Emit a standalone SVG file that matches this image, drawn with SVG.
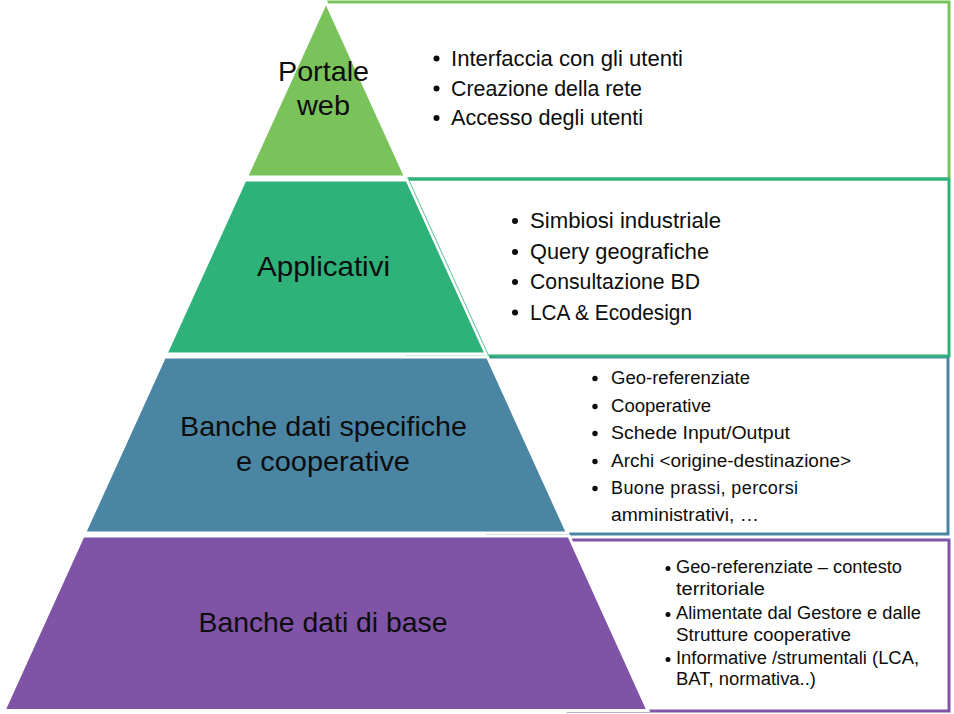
<svg xmlns="http://www.w3.org/2000/svg" width="954" height="714" viewBox="0 0 954 714">
<style>
.box{fill:#ffffff;stroke-width:3}
.seg{stroke:#ffffff;stroke-width:3;stroke-linejoin:miter}
.lbl{font-family:"Liberation Sans",Arial,sans-serif;font-size:28.5px;fill:#0d0d0d;text-anchor:middle}
.t22{font-family:"Liberation Sans",Arial,sans-serif;font-size:22px;fill:#0d0d0d}
.t18{font-family:"Liberation Sans",Arial,sans-serif;font-size:18px;fill:#0d0d0d}
.bul{fill:#0d0d0d}
</style>
<rect width="954" height="714" fill="#ffffff"/>

<!-- list boxes (behind pyramid) -->
<g id="list-4">
  <rect class="box" x="568" y="540" width="381" height="171" stroke="#7f54a6"/>
  <circle class="bul" cx="668" cy="568.5" r="2.5"/>
  <text class="t18" x="676" y="573" textLength="226" lengthAdjust="spacingAndGlyphs">Geo-referenziate – contesto</text>
  <text class="t18" x="676" y="595" textLength="89" lengthAdjust="spacingAndGlyphs">territoriale</text>
  <circle class="bul" cx="668" cy="614.5" r="2.5"/>
  <text class="t18" x="676" y="619" textLength="245" lengthAdjust="spacingAndGlyphs">Alimentate dal Gestore e dalle</text>
  <text class="t18" x="676" y="641" textLength="175" lengthAdjust="spacingAndGlyphs">Strutture cooperative</text>
  <circle class="bul" cx="668" cy="659.5" r="2.5"/>
  <text class="t18" x="676" y="664" textLength="243" lengthAdjust="spacingAndGlyphs">Informative /strumentali (LCA,</text>
  <text class="t18" x="676" y="685" textLength="140" lengthAdjust="spacingAndGlyphs">BAT, normativa..)</text>
</g>

<g id="list-3">
  <rect class="box" x="487" y="357" width="461" height="177" stroke="#4a86a4"/>
  <circle class="bul" cx="595" cy="378.5" r="2.7"/>
  <text class="t18" x="611" y="384" textLength="139" lengthAdjust="spacingAndGlyphs">Geo-referenziate</text>
  <circle class="bul" cx="595" cy="406.5" r="2.7"/>
  <text class="t18" x="611" y="412" textLength="100" lengthAdjust="spacingAndGlyphs">Cooperative</text>
  <circle class="bul" cx="595" cy="433.5" r="2.7"/>
  <text class="t18" x="611" y="439" textLength="179" lengthAdjust="spacingAndGlyphs">Schede Input/Output</text>
  <circle class="bul" cx="595" cy="461.5" r="2.7"/>
  <text class="t18" x="611" y="467" textLength="240" lengthAdjust="spacingAndGlyphs">Archi &lt;origine-destinazione&gt;</text>
  <circle class="bul" cx="595" cy="488.5" r="2.7"/>
  <text class="t18" x="611" y="494" textLength="187" lengthAdjust="spacing">Buone prassi, percorsi</text>
  <text class="t18" x="611" y="521" textLength="148" lengthAdjust="spacingAndGlyphs">amministrativi, …</text>
</g>

<g id="list-2">
  <rect class="box" x="407" y="179" width="542" height="177" stroke="#2eb27a"/>
  <circle class="bul" cx="515" cy="221" r="3"/>
  <text class="t22" x="530" y="228" textLength="191" lengthAdjust="spacingAndGlyphs">Simbiosi industriale</text>
  <circle class="bul" cx="515" cy="252" r="3"/>
  <text class="t22" x="530" y="259" textLength="179" lengthAdjust="spacingAndGlyphs">Query geografiche</text>
  <circle class="bul" cx="515" cy="282" r="3"/>
  <text class="t22" x="530" y="289" textLength="170" lengthAdjust="spacingAndGlyphs">Consultazione BD</text>
  <circle class="bul" cx="515" cy="312.5" r="3"/>
  <text class="t22" x="530" y="319.5" textLength="162" lengthAdjust="spacingAndGlyphs">LCA &amp; Ecodesign</text>
</g>

<g id="list-1">
  <path d="M326,2 H949 V178" fill="#ffffff" stroke="#7ac35a" stroke-width="3"/>
  <line x1="405" y1="179" x2="949" y2="179" stroke="#2eb27a" stroke-width="3"/>
  <circle class="bul" cx="436.5" cy="58.5" r="3"/>
  <text class="t22" x="451" y="66" textLength="232" lengthAdjust="spacingAndGlyphs">Interfaccia con gli utenti</text>
  <circle class="bul" cx="436.5" cy="88.5" r="3"/>
  <text class="t22" x="451" y="95.5" textLength="191" lengthAdjust="spacingAndGlyphs">Creazione della rete</text>
  <circle class="bul" cx="436.5" cy="118" r="3"/>
  <text class="t22" x="451" y="125" textLength="192" lengthAdjust="spacingAndGlyphs">Accesso degli utenti</text>
</g>

<!-- pyramid -->
<g id="layer-4">
  <polygon class="seg" points="83.1,536 568.9,536 648,710.5 4,710.5" fill="#7f54a6"/>
  <text class="lbl" x="323" y="632" textLength="249" lengthAdjust="spacingAndGlyphs">Banche dati di base</text>
</g>
<g id="layer-3">
  <polygon class="seg" points="164.5,357 487.5,357 567.5,533 84.5,533" fill="#4a86a4"/>
  <text class="lbl" x="323.5" y="436" textLength="287" lengthAdjust="spacingAndGlyphs">Banche dati specifiche</text>
  <text class="lbl" x="323" y="471" textLength="174" lengthAdjust="spacingAndGlyphs">e cooperative</text>
</g>
<g id="layer-2">
  <polygon class="seg" points="245,180 407,180 486.1,354 165.9,354" fill="#2eb27a"/>
  <line x1="408.8" y1="180" x2="488.3" y2="355" stroke="#2eb27a" stroke-width="0.8"/>
  <text class="lbl" x="323.5" y="276" textLength="133" lengthAdjust="spacingAndGlyphs">Applicativi</text>
</g>
<g id="layer-1">
  <polygon class="seg" points="326,2 405.6,177 246.4,177" fill="#7ac35a"/>
  <text class="lbl" x="323.5" y="81" textLength="91" lengthAdjust="spacingAndGlyphs">Portale</text>
  <text class="lbl" x="323.5" y="115" textLength="53" lengthAdjust="spacingAndGlyphs">web</text>
</g>

<g id="connectors"></g>
</svg>
